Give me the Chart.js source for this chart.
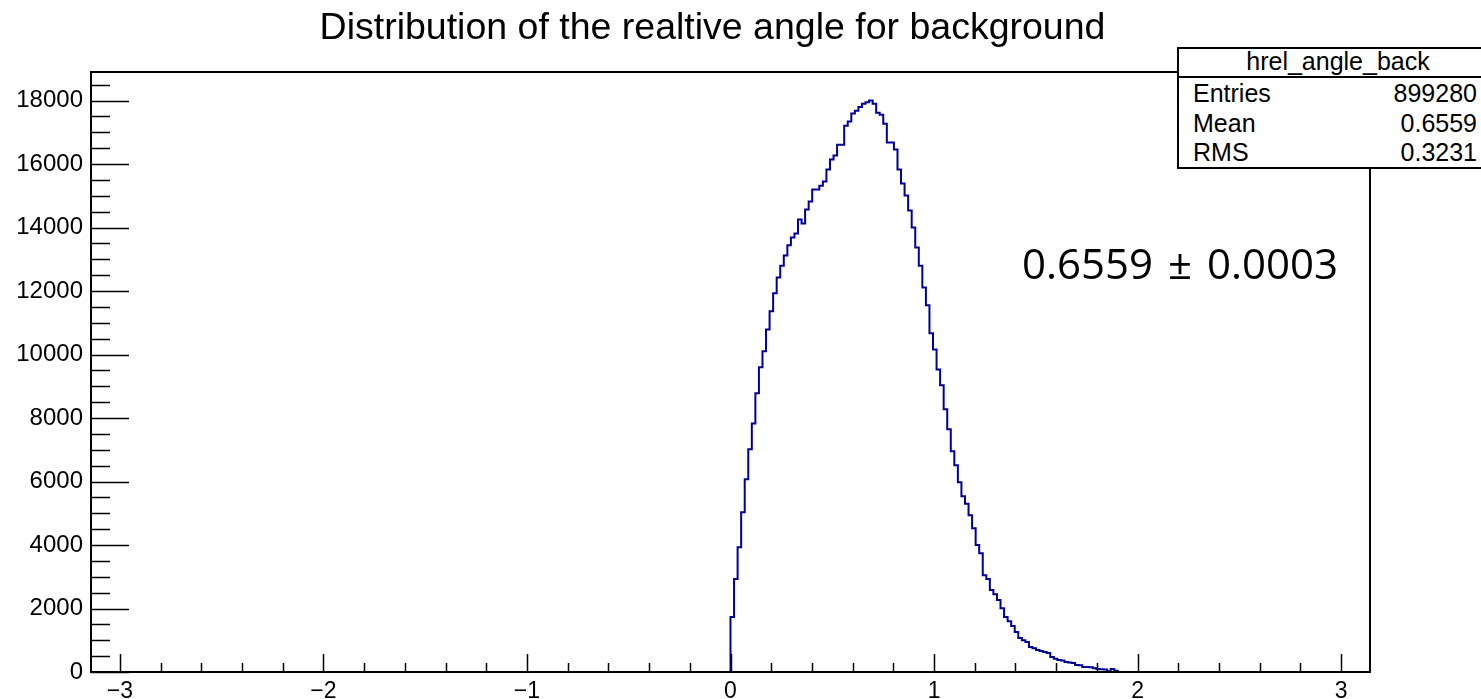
<!DOCTYPE html>
<html>
<head>
<meta charset="utf-8">
<script src="https://cdn.jsdelivr.net/npm/chart.js@4.4.0/dist/chart.umd.min.js"></script>
<style>
  html, body { margin: 0; padding: 0; background: #fff; }
  #wrap { position: relative; width: 1481px; height: 699px; overflow: hidden; }
  #myChart { position: absolute; left: 0; top: 0; }
  .txt { position: absolute; white-space: nowrap; font-family: "Liberation Sans", Arial, sans-serif; color: #000; line-height: 1; }
  #title { left: 0; width: 1425px; top: 8px; text-align: center; font-size: 37.5px; }
  #stats { position: absolute; left: 1177px; top: 47px; width: 330px; height: 122px; box-sizing: border-box;
           border: 2px solid #000; background: #fff; }
  #statsHead { position: absolute; left: 0; top: 0; width: 318px; height: 27px; border-bottom: 2px solid #000; }
  #note { left: 1022px; top: 242px; font-family: "Open Sans", sans-serif; font-size: 42px; word-spacing: 4px; }
</style>
</head>
<body>
<div id="wrap">
  <canvas id="myChart" width="1481" height="699"></canvas>
  <div id="title" class="txt"></div>
  <div id="stats"><div id="statsHead"></div></div>
  <div id="note" class="txt"></div>
</div>
<script>
// histogram hrel_angle_back : 360 bins over [-pi, pi], only bins from 0 rad are filled
var histName = "hrel_angle_back";
var histTitle = "Distribution of the realtive angle for background";
var binWidth = Math.PI / 180;
var firstBinLow = 0;
var binCounts = [
  600, 1730, 2930, 3930, 5030, 6070, 7020, 7830, 8780, 9600,
  10100, 10790, 11360, 11930, 12430, 12800, 13120, 13440, 13690, 13810,
  14250, 14130, 14570, 14820, 15200, 15200, 15320, 15450, 15830, 16140,
  16270, 16610, 16610, 17210, 17340, 17590, 17680, 17800, 17900, 17950,
  18000, 17900, 17620, 17550, 17270, 16680, 16680, 16460, 15830, 15390,
  15010, 14540, 14000, 13370, 12800, 12110, 11550, 10670, 10160, 9530,
  9030, 8280, 7650, 6950, 6510, 5980, 5540, 5300, 4940, 4530,
  4000, 3740, 3050, 2930, 2580, 2450, 2270, 2010, 1730, 1600,
  1450, 1260, 1070, 1000, 945, 790, 750, 690, 660, 630,
  600, 470, 420, 380, 360, 315, 300, 280, 220, 210,
  160, 160, 150, 120, 95, 90, 80, 20, 95, 40
];
var xTickValues = [-3, -2, -1, 0, 1, 2, 3];
var yTickValues = [0, 2000, 4000, 6000, 8000, 10000, 12000, 14000, 16000, 18000];
var statLabels = ["Entries", "Mean", "RMS"];
var statValues = ["899280", "0.6559", "0.3231"];
var noteText = "0.6559 \u00b1 0.0003";

var xMin = -Math.PI, xMax = Math.PI;
var yMax = 18900;

// step points: one per bin low edge, closed at both ends
var histPoints = [{x: firstBinLow, y: 0}];
binCounts.forEach(function (c, k) {
  histPoints.push({x: firstBinLow + k * binWidth, y: c});
});
histPoints.push({x: firstBinLow + binCounts.length * binWidth, y: 0});

// text parts
document.getElementById("title").textContent = histTitle;
document.getElementById("note").textContent = noteText;
var stats = document.getElementById("stats");
var head = document.getElementById("statsHead");
var h = document.createElement("div");
h.className = "txt";
h.style.cssText = "left:0;width:318px;text-align:center;top:0px;font-size:25px;";
h.textContent = histName;
head.appendChild(h);
statLabels.forEach(function (lab, i) {
  var l = document.createElement("div");
  l.className = "txt";
  l.style.cssText = "left:14px;top:" + (32 + i * 29.5) + "px;font-size:25px;";
  l.textContent = lab;
  stats.appendChild(l);
  var v = document.createElement("div");
  v.className = "txt";
  v.style.cssText = "right:28px;top:" + (32 + i * 29.5) + "px;font-size:25px;text-align:right;";
  v.textContent = statValues[i];
  stats.appendChild(v);
});

var minus = function (v) { return v < 0 ? "\u2212" + Math.abs(v) : String(v); };

// ROOT style frame with inward ticks
var frameTicks = {
  id: "frameTicks",
  afterDraw: function (chart) {
    var c = chart.ctx, a = chart.chartArea;
    var xs = chart.scales.x, ys = chart.scales.y;
    c.save();
    c.strokeStyle = "#000";
    c.lineWidth = 2;
    c.strokeRect(a.left, a.top, a.right - a.left, a.bottom - a.top);
    c.beginPath();
    for (var v = 0; v <= yMax; v += 500) {
      var py = Math.round(ys.getPixelForValue(v)) + 0.5;
      var len = (v % 2000 === 0) ? 38 : 19;
      c.moveTo(a.left, py);
      c.lineTo(a.left + len, py);
    }
    for (var i = -15; i <= 15; i++) {
      var xv = i * 0.2;
      var px = Math.round(xs.getPixelForValue(xv)) + 0.5;
      var l2 = (i % 5 === 0) ? 18 : 9;
      c.moveTo(px, a.bottom);
      c.lineTo(px, a.bottom - l2);
    }
    c.lineWidth = 1.5;
    c.stroke();
    c.restore();
  }
};

var ctx = document.getElementById("myChart");
const config = {
  type: 'line',
  data: {
    datasets: [{
      label: histName,
      data: histPoints,
      borderColor: '#000099',
      borderWidth: 2,
      pointRadius: 0,
      fill: false,
      stepped: 'after'
    }]
  },
  options: {
    responsive: false,
    animation: false,
    layout: { padding: { left: 0, right: 111, top: 72, bottom: 0 } },
    plugins: { legend: { display: false }, tooltip: { enabled: false }, title: { display: false } },
    scales: {
      x: {
        type: 'linear', min: xMin, max: xMax,
        afterBuildTicks: function (s) { s.ticks = xTickValues.map(function (v) { return {value: v}; }); },
        afterFit: function (s) { s.height = 27; },
        grid: { display: false, drawTicks: false },
        border: { display: false },
        ticks: { callback: function (v) { return minus(v); }, color: '#000', padding: 6, maxRotation: 0, autoSkip: false,
                 font: { family: 'Liberation Sans', size: 23 } }
      },
      y: {
        type: 'linear', min: 0, max: yMax,
        afterBuildTicks: function (s) { s.ticks = yTickValues.map(function (v) { return {value: v}; }); },
        afterFit: function (s) { s.width = 91; },
        grid: { display: false, drawTicks: false },
        border: { display: false },
        ticks: { callback: function (v) { return String(v); }, color: '#000', padding: 8, autoSkip: false,
                 font: { family: 'Liberation Sans', size: 24 } }
      }
    }
  },
  plugins: [frameTicks]
};
const myChart = new Chart(ctx, config);
</script>
</body>
</html>
